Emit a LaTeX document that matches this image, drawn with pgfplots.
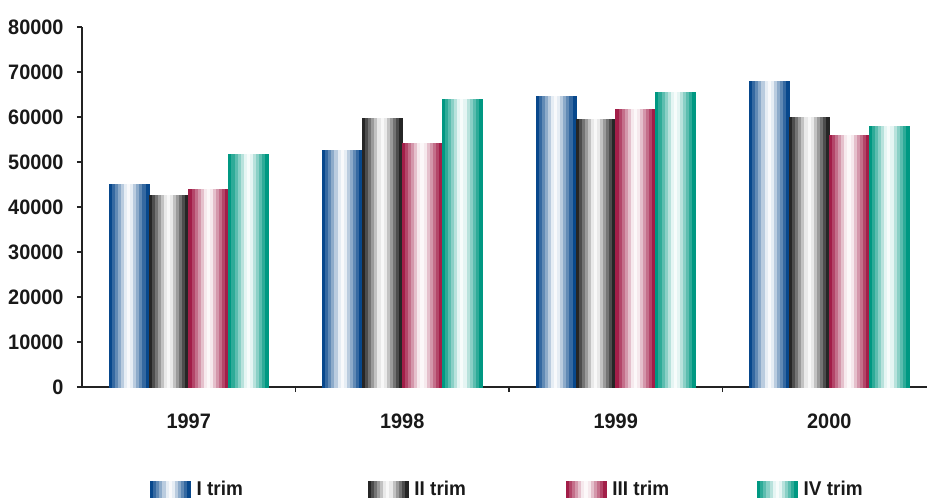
\documentclass[border=0pt]{standalone}
\usepackage{fontspec}
\setmainfont{Liberation Sans}[FakeStretch=0.95]
\usepackage{pgfplots}
\pgfplotsset{compat=1.18}
\usetikzlibrary{calc}
\definecolor{cblue}{RGB}{8,72,140}
\definecolor{cgray}{RGB}{38,38,38}
\definecolor{cred}{RGB}{162,30,72}
\definecolor{cteal}{RGB}{0,152,130}
\definecolor{axiscol}{RGB}{35,35,35}
\newcommand\stripes[5]{% color, y0, y1, x0, width of one stripe
  \foreach \a/\p in {0/100,1/82,2/64,3/46,4/28,5/10,6/3,7/10,8/28,9/46,10/64,11/82,12/100}{%
    \fill[#1!\p!white] ({#4+\a*#5-0.05bp},#2) rectangle ({#4+(\a+1)*#5+0.05bp},#3);}%
}
\pgfplotsset{
  sbar/.style={only marks, scatter, point meta=y, point meta min=0, point meta max=80000,
    mark=text, text mark={}, mark options={draw=none, fill=none},
    scatter/use mapped color={draw=none, fill=none},
    scatter/@pre marker code/.code={%
      \pgfmathsetmacro\hh{\pgfplotspointmetatransformed*0.36}%
      \stripes{#1}{0pt}{-\hh bp}{-20bp}{40bp/13}},
    scatter/@post marker code/.code={},
    legend image code/.code={\stripes{#1}{-8bp}{8bp}{0bp}{40bp/13}}
  }
}
\begin{document}
\begin{tikzpicture}
\begin{axis}[
  scale only axis, width=854bp, height=360bp,
  xmin=-0.5, xmax=3.5, ymin=0, ymax=80000,
  axis x line*=bottom, axis y line*=left,
  axis line style={line width=1.5bp, color=axiscol},
  axis on top,
  tick align=outside,
  xtick={0,1,2,3}, xticklabels={1997,1998,1999,2000},
  x tick style={draw=none},
  extra x ticks={0.5,1.5,2.5}, extra x tick labels={},
  extra x tick style={x tick style={draw=axiscol, line width=1.5bp}},
  ytick={0,10000,...,80000},
  y tick style={draw=axiscol, line width=1.5bp},
  major tick length=5bp,
  scaled y ticks=false,
  /pgf/number format/assume math mode=true,
  yticklabel style={/pgf/number format/1000 sep={}, xshift=-10bp},
  xticklabel style={yshift=-18bp},
  ticklabel style={font=\bfseries\fontsize{21}{21}\selectfont, text=black!90},
  legend columns=4,
  legend style={draw=none, fill=none, inner sep=0pt, at={(0.0796,-0.283)}, anchor=west,
    font=\bfseries\fontsize{20}{20}\selectfont, text=black!90,
    /tikz/every odd column/.append style={column sep=4bp},
    /tikz/column 2/.style={column sep=123bp},
    /tikz/column 4/.style={column sep=98bp},
    /tikz/column 6/.style={column sep=86bp}},
]
\addplot[sbar=cblue] table {
x y
-0.2805 45100
0.7195 52700
1.7195 64700
2.7195 68000
};
\addplot[sbar=cgray] table {
x y
-0.0935 42700
0.9065 59800
1.9065 59600
2.9065 60000
};
\addplot[sbar=cred] table {
x y
0.0935 44000
1.0935 54200
2.0935 61800
3.0935 56000
};
\addplot[sbar=cteal] table {
x y
0.2805 51800
1.2805 64000
2.2805 65600
3.2805 58000
};
\legend{I trim, II trim, III trim, IV trim}
\coordinate (o) at (rel axis cs:0,0);
\end{axis}
\pgfresetboundingbox
\path[use as bounding box] ($(o)+(-82bp,-114bp)$) rectangle ($(o)+(845bp,387bp)$);
\end{tikzpicture}
\end{document}
